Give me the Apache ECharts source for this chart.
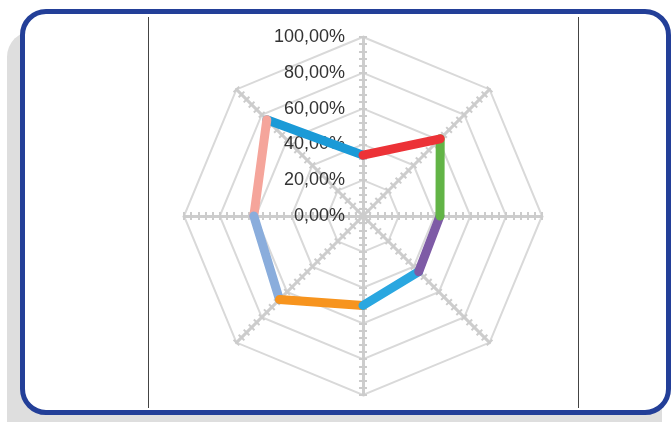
<!DOCTYPE html>
<html>
<head>
<meta charset="utf-8">
<script src="https://cdn.jsdelivr.net/npm/echarts@6/dist/echarts.min.js"></script>
<style>
    html, body { margin: 0; padding: 0; background: #fff; overflow: hidden; }
    .page { position: relative; width: 671px; height: 422px; overflow: hidden; }
    .shadow {
        position: absolute; left: 7px; top: 31px; width: 655px; height: 420px;
        background: #dedede; border-radius: 26px;
    }
    .frame {
        position: absolute; left: 20px; top: 9px; width: 641px; height: 396px;
        border: 5px solid #233f98; border-radius: 26px; background: #fff;
    }
    .vline { position: absolute; top: 17px; height: 391px; width: 1px; background: #444; }
    #chart { position: absolute; left: 0; top: 0; width: 671px; height: 422px; }
</style>
</head>
<body>
<div class="page">
    <div class="shadow"></div>
    <div class="frame"></div>
    <div class="vline" style="left:148px"></div>
    <div class="vline" style="left:578px"></div>
    <div id="chart"></div>
</div>
<script>
// 八个方向的取值（从正上方开始，顺时针）
const values = [0.34, 0.61, 0.43, 0.44, 0.50, 0.66, 0.61, 0.76];
// 每一段折线的颜色（第 i 段连接第 i 个和第 i+1 个点）
const segmentColors = ['#ec3237', '#62b446', '#7e5ba6', '#2aa7e0', '#f7941e', '#8aaddc', '#f5a59b', '#1b9ad7'];
// 刻度标签
const tickLabels = ['0,00%', '20,00%', '40,00%', '60,00%', '80,00%', '100,00%'];

const center = [363, 216];
const radius = 179;

const indicators = values.map(() => ({ name: '', max: 1, min: 0 }));

function tickRadar(len) {
    return {
        center: center, radius: radius, startAngle: 90, shape: 'polygon',
        splitNumber: 25, indicator: indicators, silent: true,
        axisName: { show: false },
        axisLine: { show: false },
        splitLine: { show: false },
        splitArea: { show: false },
        axisLabel: { show: false },
        axisTick: { show: true, length: len, lineStyle: { color: '#cccccc', width: 2 } }
    };
}

// 每段一个 series，角度轴用数值 0-360
let series = [];
for (let i = 0; i < values.length; i++) {
    let j = (i + 1) % values.length;
    series.push({
        type: 'line',
        coordinateSystem: 'polar',
        showSymbol: false,
        silent: true,
        z: 10 + (values.length - i),
        lineStyle: { color: segmentColors[i], width: 9, cap: 'round', join: 'round' },
        data: [[values[i], i * 45], [values[j], (i + 1) * 45]]
    });
}

const chart = echarts.init(document.getElementById('chart'));
chart.setOption({
    backgroundColor: 'transparent',
    animation: false,
    radar: [
        {
            center: center, radius: radius, startAngle: 90, shape: 'polygon',
            splitNumber: 5, indicator: indicators, silent: true,
            axisName: { show: false },
            axisLine: { lineStyle: { color: '#cdcdcd', width: 3 } },
            splitLine: { lineStyle: { color: '#d9d9d9', width: 2 } },
            splitArea: { show: false },
            axisTick: { show: false },
            axisLabel: { show: false }
        },
        tickRadar(4),
        tickRadar(-4)
    ],
    polar: { center: center, radius: radius },
    angleAxis: {
        type: 'value', min: 0, max: 360, startAngle: 90, clockwise: true,
        axisLine: { show: false }, axisTick: { show: false },
        axisLabel: { show: false }, splitLine: { show: false }
    },
    radiusAxis: {
        type: 'value', min: 0, max: 1, interval: 0.2,
        axisLine: { show: false }, axisTick: { show: false }, splitLine: { show: false },
        axisLabel: {
            show: true,
            fontFamily: 'Liberation Sans',
            fontSize: 18,
            color: '#333333',
            margin: 18,
            padding: [4, 0, 0, 0],
            formatter: v => tickLabels[Math.round(v / 0.2)]
        }
    },
    series: series
});
</script>
</body>
</html>
